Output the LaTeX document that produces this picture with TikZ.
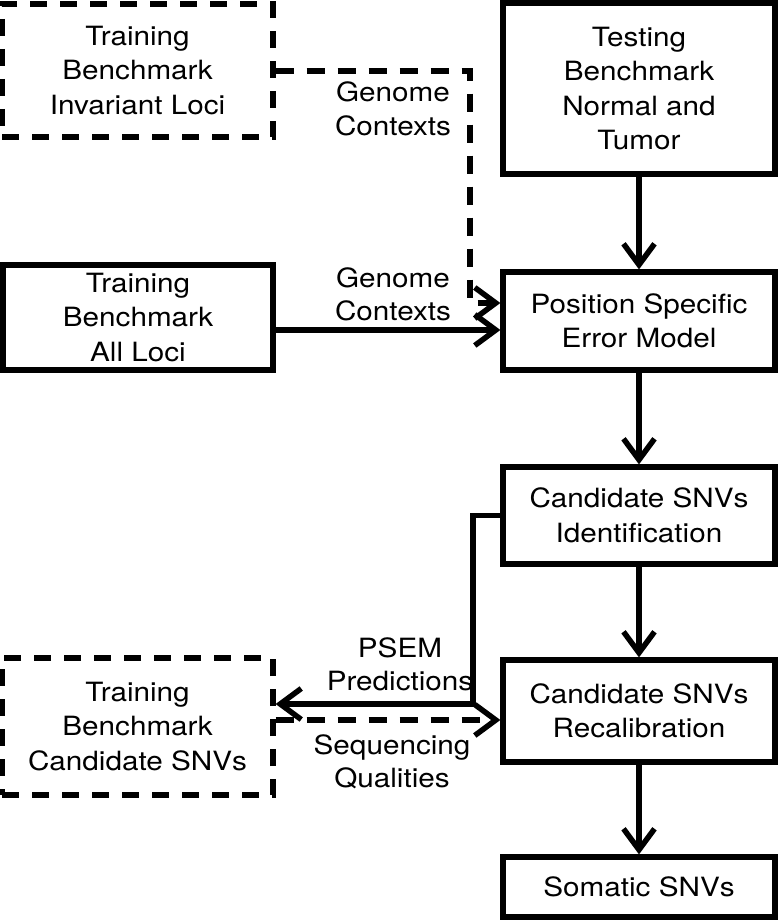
\documentclass[tikz,border=0pt]{standalone}
\usepackage{fontspec}
\setmainfont[FakeStretch=1.12]{TeX Gyre Heros}
\usetikzlibrary{arrows.meta}
\tikzset{
  box/.style={draw, line width=5.2pt, rectangle, inner sep=0pt, align=center,
    font=\fontsize{26.5}{34.5}\selectfont},
  dbox/.style={box, dash pattern=on 17pt off 13pt},
  lbl/.style={align=center, inner sep=0pt, font=\fontsize{26.5}{33.5}\selectfont},
  conn/.style={line width=5.2pt, -{Straight Barb[length=21pt,width=31pt,line width=5.5pt]}},
  dconn/.style={conn, dash pattern=on 18pt off 13pt},
}
\begin{document}
\begin{tikzpicture}[x=1pt,y=-1pt]
\useasboundingbox (0,0) rectangle (780,920);
\node[dbox, minimum width=271pt, minimum height=133pt] (inv) at (137.5,70.5) {Training\\Benchmark\\Invariant Loci};
\node[box, minimum width=272pt, minimum height=171pt] (test) at (639,88.5) {Testing\\Benchmark\\Normal and\\Tumor};
\node[box, minimum width=270pt, minimum height=105pt] (all) at (138,317.5) {Training\\Benchmark\\All Loci};
\node[box, minimum width=272pt, minimum height=98pt] (psem) at (639,321) {Position Specific\\Error Model};
\node[box, minimum width=272pt, minimum height=97pt] (cid) at (639,515.5) {Candidate SNVs\\Identification};
\node[box, minimum width=272pt, minimum height=102pt] (rec) at (639,711) {Candidate SNVs\\Recalibration};
\node[dbox, minimum width=271pt, minimum height=137pt] (tc) at (137.5,726.5) {Training\\Benchmark\\Candidate SNVs};
\node[box, minimum width=272pt, minimum height=60pt] (som) at (639,887) {Somatic SNVs};

\coordinate (c1) at (470,71);
\coordinate (c2) at (470,303);
\coordinate (c3) at (473,704);

\draw[dconn] (inv.east |- c1) -- (c1) -- (c2) -- (psem.west |- c2);
\draw[conn] (all.east |- 0,330) -- (psem.west |- 0,330);
\draw[conn] (test) -- (psem);
\draw[conn] (psem) -- (cid);
\draw[conn] (cid) -- (rec);
\draw[conn] (rec) -- (som);
\draw[conn] (cid.west) -| (c3) -- (tc.east |- c3);
\draw[dconn] (tc.east |- 0,720) -- (rec.west |- 0,720);

\node[lbl] (g1) at (393,109) {Genome\\Contexts};
\node[lbl] (g2) at (393,294.5) {Genome\\Contexts};
\node[lbl] (p1) at (400,664.5) {PSEM\\Predictions};
\node[lbl] (s1) at (392,762) {Sequencing\\Qualities};
\end{tikzpicture}
\end{document}
